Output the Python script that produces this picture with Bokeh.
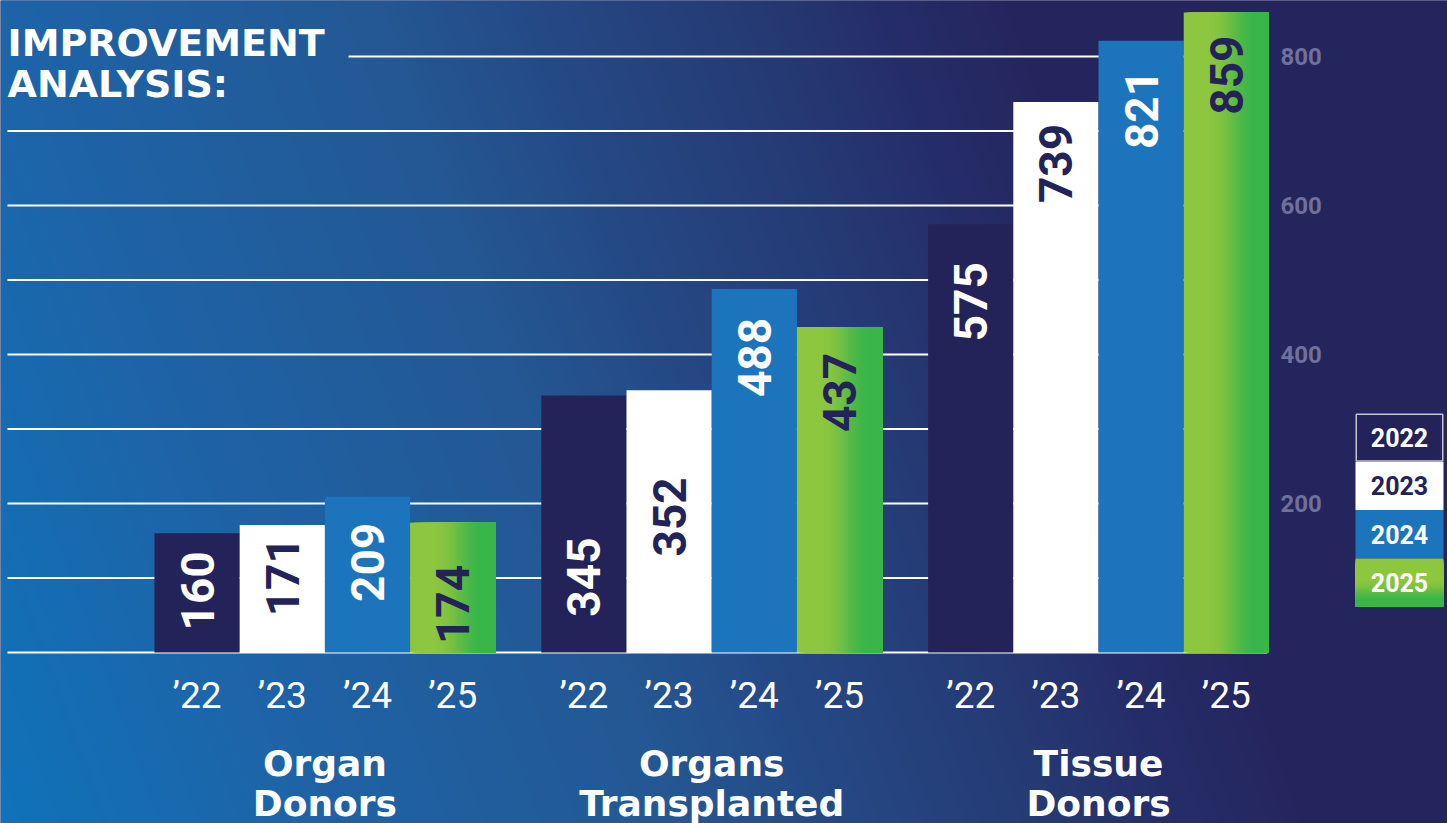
import numpy as np
from bokeh.plotting import figure
from bokeh.models import Range1d
from bokeh.core.properties import value
from bokeh.embed import file_html
from bokeh.resources import INLINE

# ---------------- data ----------------
group_lines = [["Organ", "Donors"], ["Organs", "Transplanted"], ["Tissue", "Donors"]]
years = ["2022", "2023", "2024", "2025"]
year_ticks = ["\u201922", "\u201923", "\u201924", "\u201925"]
v2022 = [160, 345, 575]
v2023 = [171, 352, 739]
v2024 = [209, 488, 821]
v2025 = [174, 437, 859]
y_ticks = [200, 400, 600, 800]
grid_values = [0, 100, 200, 300, 400, 500, 600, 700, 800]

# ---------------- style / layout ----------------
NAVY = "#242359"
BG_NAVY = "#25255d"
WHITE = "#ffffff"
BLUE = "#1c75bc"
G_LIGHT = np.array([141, 198, 63])
G_DARK = np.array([57, 181, 74])

W, H = 1447, 823
BASE_PX = 652          # baseline, px from top
PX = 0.745             # px per value unit
BAR_PX = 85.2          # px per bar
GROUP_STEP = 4.54      # bars per group step
LEFT_PX = 154          # left edge of first group

# label gaps (px) below bar tops, per series (placement style)
label_gaps = [[18, 142, 38], [12, 87, 22], [26, 29, 29], [42, 26, 23]]


def sx(px):
    return (px - LEFT_PX) / BAR_PX


def sy(py):
    return (BASE_PX - py) / PX


x_range = Range1d(sx(0), sx(W))
y_range = Range1d(sy(H), sy(0))

p = figure(width=W, height=H, x_range=x_range, y_range=y_range,
           output_backend="svg", toolbar_location=None,
           x_axis_location=None, y_axis_location=None,
           min_border=0, background_fill_color=BG_NAVY, border_fill_color=BG_NAVY,
           outline_line_color=None)
p.xgrid.visible = False
p.ygrid.visible = False

# ---------------- background gradient ----------------
DS = 2
hh, ww = H // DS + 1, W // DS + 1
yy, xx = np.mgrid[0:hh, 0:ww]
xr = xx * DS
yr = (hh - 1 - yy) * DS
s = xr - yr * 300.0 / 823.0
stops = [-300, 0, 370, 550, 750, 870, 1000, 1200]
rs = [16, 30, 36, 37, 37, 37, 37, 37]
gs = [115, 100, 88, 72, 58, 46, 38, 37]
bs = [186, 168, 148, 132, 116, 106, 94, 93]
img = np.empty((hh, ww), dtype=np.uint32)
view = img.view(dtype=np.uint8).reshape((hh, ww, 4))
view[..., 0] = np.interp(s, stops, rs).astype(np.uint8)
view[..., 1] = np.interp(s, stops, gs).astype(np.uint8)
view[..., 2] = np.interp(s, stops, bs).astype(np.uint8)
view[..., 3] = 255
p.image_rgba(image=[img], x=sx(0), y=sy(H + 2), dw=sx(W + 2) - sx(0), dh=sy(-2) - sy(H + 2))

# ---------------- gridlines ----------------
gx0 = [sx(348) if g == 800 else sx(7) for g in grid_values]
gx1 = [sx(1267)] * len(grid_values)
p.segment(x0=gx0, y0=grid_values, x1=gx1, y1=grid_values, line_color=WHITE, line_width=2)

# ---------------- bars ----------------
series = [v2022, v2023, v2024, v2025]
colors = [NAVY, WHITE, BLUE]
label_colors = [WHITE, NAVY, WHITE, NAVY]


def centers(yi):
    return [gi * GROUP_STEP + yi + 0.5 for gi in range(len(group_lines))]


for yi in range(3):
    p.vbar(x=centers(yi), top=series[yi], bottom=0, width=1.0,
           fill_color=colors[yi], line_color=None)

# 2025 bars with horizontal gradient: overlapping strips, each running to the bar's right edge
NS = 40
for k in range(NS):
    t0 = k / NS
    t = (k + 0.5) / NS
    u = np.clip((t - 0.3) / (0.85 - 0.3), 0, 1)
    u = u * u * (3 - 2 * u)
    c = (G_LIGHT * (1 - u) + G_DARK * u).astype(int)
    col = "#%02x%02x%02x" % tuple(c)
    xs = [cx - 0.5 + (t0 + 1.0) / 2 for cx in centers(3)]
    p.vbar(x=xs, top=v2025, bottom=0, width=1.0 - t0,
           fill_color=col, line_color=None)

# value labels (rotated, reading upward)
for yi in range(4):
    p.text(x=centers(yi), y=series[yi], text=[str(v) for v in series[yi]],
           angle=np.pi / 2, text_align="right", text_baseline="middle",
           y_offset=label_gaps[yi], text_color=label_colors[yi],
           text_font=value("Roboto"), text_font_style="bold", text_font_size="46px")

# year tick labels
for yi in range(4):
    p.text(x=centers(yi), y=[sy(695)] * 3, text=[year_ticks[yi]] * 3,
           text_align="center", text_baseline="middle", text_color=WHITE,
           text_font=value("Roboto"), text_font_size="37px")

# group labels
gcx = [gi * GROUP_STEP + 2.0 for gi in range(len(group_lines))]
for li, ypx in enumerate([763, 803]):
    p.text(x=gcx, y=[sy(ypx)] * 3, text=[gl[li] for gl in group_lines],
           text_align="center", text_baseline="middle", text_color=WHITE,
           text_font=value("DejaVu Sans"), text_font_style="bold", text_font_size="36px")

# title
p.text(x=[sx(7), sx(7)], y=[sy(42), sy(83)], text=["IMPROVEMENT", "ANALYSIS:"],
       text_align="left", text_baseline="middle", text_color=WHITE,
       text_font=value("DejaVu Sans"), text_font_style="bold", text_font_size="38px")

# value-axis tick labels (right side)
p.text(x=[sx(1280)] * len(y_ticks), y=y_ticks, text=[str(t) for t in y_ticks],
       text_align="left", text_baseline="middle", text_color="#70709c",
       text_font=value("Roboto"), text_font_style="bold", text_font_size="24px")

# ---------------- legend ----------------
L_LEFT, L_RIGHT, L_TOP, L_H = 1355, 1443, 413, 48.3
tops = [L_TOP + i * L_H for i in range(4)]
bots = [t + L_H for t in tops]
p.quad(left=sx(L_LEFT), right=sx(L_RIGHT), top=[sy(t) for t in tops[:3]],
       bottom=[sy(b) for b in bots[:3]], fill_color=[NAVY, WHITE, BLUE], line_color=None)
p.quad(left=sx(L_LEFT + 0.75), right=sx(L_RIGHT - 0.75), top=sy(tops[0] + 0.75),
       bottom=sy(bots[0] - 0.75), fill_color=None, line_color="#c4c4d6", line_width=1.5)
NL = 30
for k in range(NL):
    t = (k + 0.5) / NL
    u = np.clip((t - 0.45) / (0.9 - 0.45), 0, 1)
    u = u * u * (3 - 2 * u)
    c = (G_LIGHT * (1 - u) + G_DARK * u).astype(int)
    col = "#%02x%02x%02x" % tuple(c)
    p.quad(left=sx(L_LEFT), right=sx(L_RIGHT), top=sy(tops[3] + k * L_H / NL),
           bottom=sy(bots[3]), fill_color=col, line_color=None)
p.text(x=[sx((L_LEFT + L_RIGHT) / 2)] * 4, y=[sy(t + L_H / 2) for t in tops], text=years,
       text_align="center", text_baseline="middle",
       text_color=[WHITE, NAVY, WHITE, WHITE],
       text_font=value("Roboto"), text_font_style="bold", text_font_size="25px")

open("out.html", "w").write(file_html(p, INLINE))
